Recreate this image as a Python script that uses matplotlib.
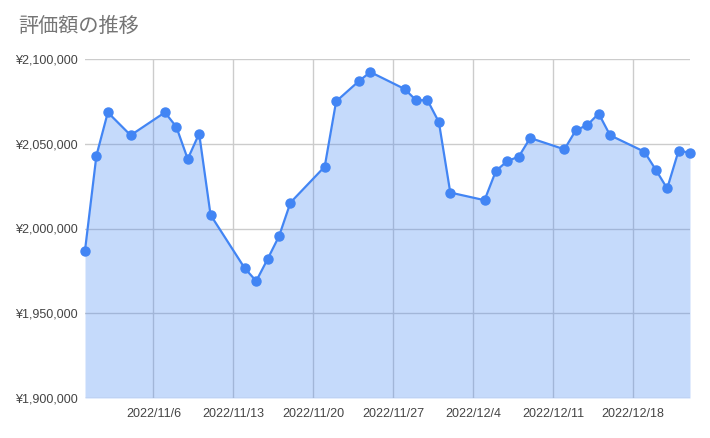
import matplotlib
matplotlib.use("Agg")
import matplotlib.pyplot as plt
from matplotlib.ticker import FuncFormatter
import pandas as pd

plt.rcParams["font.family"] = ["Liberation Sans", "Noto Sans CJK JP", "DejaVu Sans"]

dates = pd.to_datetime([
    "2022-10-31", "2022-11-01", "2022-11-02", "2022-11-04", "2022-11-07",
    "2022-11-08", "2022-11-09", "2022-11-10", "2022-11-11", "2022-11-14",
    "2022-11-15", "2022-11-16", "2022-11-17", "2022-11-18", "2022-11-21",
    "2022-11-22", "2022-11-24", "2022-11-25", "2022-11-28", "2022-11-29",
    "2022-11-30", "2022-12-01", "2022-12-02", "2022-12-05", "2022-12-06",
    "2022-12-07", "2022-12-08", "2022-12-09", "2022-12-12", "2022-12-13",
    "2022-12-14", "2022-12-15", "2022-12-16", "2022-12-19", "2022-12-20",
    "2022-12-21", "2022-12-22", "2022-12-23",
])
values = [
    1987000, 2043000, 2068500, 2055000, 2068500,
    2060000, 2041000, 2056000, 2008000, 1976500,
    1969000, 1982000, 1995500, 2015300, 2036500,
    2075000, 2087000, 2092300, 2082300, 2075700,
    2075700, 2062800, 2021200, 2016700, 2034000,
    2039800, 2042400, 2053400, 2046700, 2058000,
    2061000, 2067800, 2055000, 2045300, 2034700,
    2023600, 2045900, 2044700,
]
tick_dates = pd.to_datetime(["2022-11-06", "2022-11-13", "2022-11-20", "2022-11-27",
                             "2022-12-04", "2022-12-11", "2022-12-18"])
tick_labels = ["2022/11/6", "2022/11/13", "2022/11/20", "2022/11/27",
               "2022/12/4", "2022/12/11", "2022/12/18"]
y_ticks = [1900000, 1950000, 2000000, 2050000, 2100000]

blue = "#4285F4"

fig = plt.figure(figsize=(7.1, 4.38), dpi=100)
ax = fig.add_axes([85 / 710, 1 - 398 / 438, 605 / 710, 339 / 438])

ax.fill_between(dates, values, 1900000, color=blue, alpha=0.3, lw=0, zorder=2)
ax.plot(dates, values, color=blue, lw=1.6, marker="o", markersize=6.5, zorder=3, clip_on=False)

ax.set_xlim(dates[0], dates[-1])
ax.set_ylim(1900000, 2100000)
ax.set_xticks(tick_dates)
ax.set_xticklabels(tick_labels)
ax.set_yticks(y_ticks)
ax.yaxis.set_major_formatter(FuncFormatter(lambda v, p: f"¥{v:,.0f}"))

ax.grid(True, color="#cccccc", lw=1, zorder=1)
ax.set_axisbelow(True)
for s in ax.spines.values():
    s.set_visible(False)
ax.tick_params(axis="both", length=0, labelsize=9, colors="#444444")
ax.tick_params(axis="x", pad=7)
ax.tick_params(axis="y", pad=5)

fig.text(18 / 710, 1 - 32 / 438, "評価額の推移", fontsize=14.5, color="#757575",
         family=["Noto Sans CJK JP", "DejaVu Sans"], va="baseline")

fig.savefig("out.png", dpi=100)
